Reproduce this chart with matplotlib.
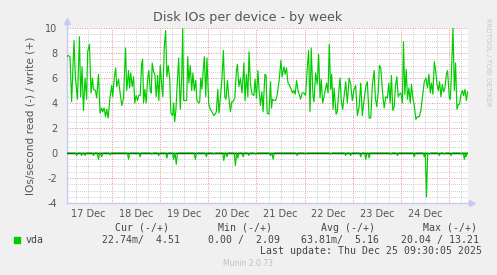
import matplotlib.pyplot as plt
import numpy as np

# hours since 17 Dec 00:00
days = ['17 Dec', '18 Dec', '19 Dec', '20 Dec', '21 Dec', '22 Dec', '23 Dec', '24 Dec']

write_hours = [
    1.3, 2.2, 3.0, 3.8, 5.0, 5.7, 6.7, 7.7, 8.3, 9.0, 9.7, 10.5, 11.3, 11.8, 12.7,
    13.5, 14.2, 14.7, 15.7, 16.3, 17.2, 18.0, 18.8, 19.3, 20.0, 20.7, 21.3, 22.0,
    23.0, 23.8, 24.3, 25.2, 25.8, 26.3, 27.2, 28.0, 28.8, 29.7, 30.7, 31.3, 32.2,
    32.7, 33.3, 34.0, 34.7, 35.3, 36.0, 36.7, 37.3, 38.0, 38.7, 39.2, 39.7, 40.3,
    41.0, 41.7, 42.3, 43.0, 43.5, 44.0, 44.7, 45.3, 46.0, 46.7, 47.3, 48.0, 48.8,
    49.3, 50.0, 50.7, 51.3, 52.0, 52.7, 53.3, 54.2, 54.7, 55.2, 55.8, 56.3, 57.2,
    58.0, 58.7, 59.2, 59.7, 60.5, 61.2, 61.7, 62.3, 63.0, 63.7, 64.3, 65.0, 65.7,
    66.3, 67.2, 67.7, 68.2, 68.8, 69.3, 70.0, 70.7, 71.3, 72.2, 73.0, 73.8, 74.7,
    75.3, 76.0, 76.7, 77.3, 78.0, 78.8, 79.5, 80.2, 80.8, 81.5, 82.2, 83.0, 83.7,
    84.3, 85.2, 86.0, 86.5, 87.2, 88.0, 88.8, 89.7, 90.3, 91.0, 91.7, 92.3, 93.0,
    93.8, 94.7, 95.3, 96.0, 96.7, 97.3, 98.0, 98.7, 99.3, 100.2, 100.8, 101.3,
    102.2, 103.0, 103.5, 104.0, 104.7, 105.5, 106.3, 107.3, 108.2, 108.8, 109.7,
    110.3, 111.0, 111.7, 112.5, 113.3, 114.0, 114.7, 115.3, 116.0, 116.7, 117.3,
    118.0, 118.8, 119.7, 120.5, 121.3, 122.0, 122.7, 123.3, 124.2, 124.7, 125.5,
    126.3, 127.0, 127.7, 128.3, 129.0, 129.7, 130.3, 131.0, 131.7, 132.3, 133.0,
    133.5, 134.2, 134.7, 135.7, 136.3, 137.0, 137.7, 138.3, 139.0, 139.7, 140.5,
    141.3, 142.2, 143.0, 143.8, 144.7, 145.5, 146.3, 147.2, 148.0, 148.8, 149.7,
    150.5, 151.3, 152.2, 153.0, 153.8, 154.7, 155.3, 156.0, 156.7, 157.3, 158.0,
    158.8, 159.7, 160.5, 161.3, 162.0, 162.7, 163.3, 164.0, 164.7, 165.3, 166.0,
    166.7, 167.3, 168.0, 168.8, 169.3, 170.0, 170.7, 171.3, 172.0, 172.7, 173.3,
    174.0, 174.7, 175.5, 176.3, 177.2, 178.0, 178.8, 179.7, 180.5, 181.3, 182.0,
    182.7, 183.3, 184.0, 184.7, 185.3, 186.0, 186.7, 187.3, 188.0, 188.7, 189.3,
    190.0, 190.7, 191.3, 192.2, 192.7, 193.3, 194.0, 194.7, 195.3, 196.0, 196.7,
    197.3, 198.0, 198.7, 199.3, 200.0, 200.7, 201.3,
]
write_vals = [
    7.7, 7.8, 7.7, 4.1, 9.0, 6.0, 4.3, 9.3, 4.5, 6.9, 3.4, 6.0, 4.3, 8.1, 8.7,
    4.8, 6.0, 5.1, 5.0, 4.4, 6.3, 3.2, 3.6, 3.3, 3.6, 2.9, 3.5, 2.8,
    4.5, 5.4, 4.5, 6.2, 6.8, 5.3, 5.9, 4.8, 3.8, 4.4, 8.4, 5.0, 6.6,
    5.2, 6.4, 5.3, 6.1, 4.0, 4.6, 4.2, 4.6, 4.6, 7.1, 7.5, 4.0, 5.1,
    4.0, 5.9, 6.6, 5.0, 4.8, 7.2, 6.5, 6.3, 4.5, 6.2, 4.2, 7.0, 5.3,
    4.5, 8.4, 9.8, 6.1, 7.0, 6.0, 3.2, 3.0, 4.0, 2.5, 3.4, 5.0, 7.6,
    3.5, 6.0, 10.0, 4.2, 4.2, 4.2, 7.7, 5.6, 7.0, 5.0, 6.4, 5.0, 5.8,
    4.2, 4.0, 4.1, 6.0, 5.1, 6.3, 7.7, 4.5, 7.6, 3.9, 3.5, 3.3, 3.0,
    3.1, 3.3, 5.1, 3.2, 4.4, 6.0, 8.2, 4.5, 4.3, 5.8, 4.5, 3.3, 4.1,
    4.1, 4.4, 6.6, 7.1, 5.3, 6.0, 4.8, 7.2, 4.2, 6.3, 4.5, 8.1, 5.5,
    4.7, 4.6, 5.9, 4.4, 6.6, 5.0, 3.8, 4.9, 3.3, 6.3, 6.2, 3.2,
    3.1, 5.7, 3.6, 4.3, 4.2, 4.2, 4.6, 5.8, 7.4, 6.1, 6.9,
    6.3, 6.8, 5.6, 5.4, 5.1, 4.8, 5.0, 4.7, 5.8, 5.0, 4.7,
    4.3, 4.8, 4.8, 4.6, 6.7, 8.2, 3.3, 8.4, 4.5, 4.1, 6.4,
    5.5, 7.9, 4.4, 5.9, 4.0, 4.5, 5.0, 5.6, 4.8, 8.7, 5.1,
    6.3, 3.5, 5.2, 3.1, 3.3, 4.8, 6.0, 4.2, 3.5, 4.5, 5.7,
    4.0, 6.0, 5.5, 4.2, 5.1, 5.4, 3.0, 3.7, 5.6, 3.0, 4.3,
    5.3, 5.7, 2.8, 2.8, 5.4, 6.6, 4.4, 3.7, 4.8, 7.0, 6.8,
    5.0, 3.6, 4.5, 4.4, 5.6, 4.0, 6.2, 3.4, 3.7, 5.3, 6.1,
    4.5, 4.7, 4.8, 4.0, 8.9, 4.7, 6.7, 4.3, 5.2, 4.0, 5.5,
    4.4, 3.8, 2.7, 2.9, 2.9, 3.4, 4.5, 5.7, 6.0, 5.2, 6.3,
    4.8, 5.6, 4.7, 7.3, 6.7, 5.5, 5.0, 5.7, 4.5, 5.5, 4.9,
    5.2, 6.3, 6.6, 4.4, 4.3, 6.7, 10.0, 5.0, 7.2, 3.5, 3.9,
    3.9, 4.7, 5.0, 4.6, 5.1, 4.2, 4.9,
]

read_hours = [
    6.3, 8.8, 10.5, 14.7, 17.2, 18.8, 23.0, 32.2, 38.0, 43.8, 47.2, 51.3, 54.7,
    56.0, 65.5, 71.0, 74.7, 79.7, 81.3, 85.5, 86.7, 89.3, 92.2, 95.5, 103.0,
    104.3, 116.3, 120.5, 133.0, 140.5, 143.0, 148.0, 150.5, 152.2, 163.0, 166.3,
    174.7, 179.7, 180.8, 182.2, 187.2, 189.7, 193.0, 198.0, 199.7, 200.5,
]
read_vals = [
    -0.2, -0.2, -0.2, -0.2, -0.5, -0.3, -0.15, -0.5, -0.3, -0.1, -0.2, -0.4, -0.5,
    -0.9, -0.5, -0.3, -0.1, -0.6, -0.3, -1.0, -0.4, -0.3, -0.2, -0.1, -0.2,
    -0.5, -0.2, -0.1, -0.1, -0.2, -0.2, -0.3, -0.5, -0.4, -0.1, -0.2,
    -0.3, -0.3, -3.5, -0.1, -0.2, -0.1, -0.2, -0.1, -0.5, -0.3,
]

W, H = 497, 275
fig = plt.figure(figsize=(W / 100, H / 100), dpi=100, facecolor='#f0f0f0')
ax = fig.add_axes([67 / W, 1 - 203 / H, (468 - 67) / W, (203 - 28) / H])
ax.set_facecolor('white')

x0, x1 = 1.5, 201.5
ax.set_xlim(x0, x1)
ax.set_ylim(-4, 10)

# grid
red = '#e89090'
gray = '#bdbdbd'
dots = (0, (1, 1.5))
for h in np.arange(6, x1, 6):
    if h % 24 == 0:
        ax.axvline(h, color=red, lw=0.7, ls=dots, zorder=1)
    else:
        ax.axvline(h, color=gray, lw=0.6, ls=dots, zorder=0)
for v in np.arange(-3.5, 10.01, 0.5):
    if v == 0:
        continue
    if v % 2 == 0:
        ax.axhline(v, color=red, lw=0.7, ls=dots, zorder=1)
    else:
        ax.axhline(v, color=gray, lw=0.6, ls=dots, zorder=0)

# read series (below zero) with zeros between the dips
rt = [x0]
rv = [0.0]
for t, v in zip(read_hours, read_vals):
    rt += [t - 0.6, t, t + 0.6]
    rv += [0.0, v, 0.0]
rt.append(x1)
rv.append(0.0)

ax.axhline(0, color='black', lw=1.0, zorder=3)
ax.plot(rt, rv, color='#00cc00', lw=0.85, zorder=4)
ax.plot(write_hours, write_vals, color='#00cc00', lw=0.85, zorder=4)

# axes look
for s in ['top', 'right']:
    ax.spines[s].set_visible(False)
for s in ['left', 'bottom']:
    ax.spines[s].set_color('#c8c8f0')
    ax.spines[s].set_linewidth(1.0)
ax.plot([0], [1.04], marker='^', ms=5, color='#c8c8f0', transform=ax.transAxes,
        clip_on=False)
ax.plot([1.01], [0], marker='>', ms=5, color='#c8c8f0', transform=ax.transAxes,
        clip_on=False)
ax.plot([0, 0], [1.0, 1.04], color='#c8c8f0', lw=1.0, transform=ax.transAxes, clip_on=False)
ax.plot([1.0, 1.01], [0, 0], color='#c8c8f0', lw=1.0, transform=ax.transAxes, clip_on=False)

ax.set_yticks(np.arange(-4, 11, 2))
ax.set_yticklabels([str(v) for v in range(-4, 11, 2)])
ax.set_xticks([12 + 24 * i for i in range(len(days))])
ax.set_xticklabels(days)
ax.tick_params(length=0, labelsize=7, labelcolor='#555555')
ax.tick_params(axis='y', pad=7)
ax.tick_params(axis='x', pad=4)

ax.set_ylabel('IOs/second read (-) / write (+)', fontsize=7.6, color='#555555', labelpad=7)

fig.text(248 / W, 1 - 18 / H, 'Disk IOs per device - by week', ha='center', va='center',
         fontsize=9.2, color='#555555')
fig.text(488 / W, 1 - 62 / H, 'RRDTOOL / TOBI OETIKER', rotation=270, ha='center',
         va='center', fontsize=5, color='#c8c8c8')

# legend block
mono = 'DejaVu Sans Mono'
fs = 7.1
tc = '#444444'
fig.patches.append(plt.Rectangle((14 / W, 1 - 243 / H), 6 / W, 6 / H, color='#00cc00',
                                 transform=fig.transFigure))
fig.text(26 / W, 1 - 240 / H, 'vda', family=mono, fontsize=fs, color=tc, va='center')
heads = [('Cur (-/+)', 142), ('Min (-/+)', 245), ('Avg (-/+)', 348), ('Max (-/+)', 450)]
vals = [('22.74m/  4.51', 141), ('0.00 /  2.09', 244), ('63.81m/  5.16', 340),
        ('20.04 / 13.21', 440)]
for txt, xc in heads:
    fig.text(xc / W, 1 - 228 / H, txt, family=mono, fontsize=fs, color=tc,
             ha='center', va='center')
for txt, xc in vals:
    fig.text(xc / W, 1 - 240 / H, txt, family=mono, fontsize=fs, color=tc,
             ha='center', va='center')
fig.text(482 / W, 1 - 251 / H, 'Last update: Thu Dec 25 09:30:05 2025', family=mono,
         fontsize=fs, color=tc, ha='right', va='center')
fig.text(248 / W, 1 - 264 / H, 'Munin 2.0.73', fontsize=5.5, color='#c0c0c0',
         ha='center', va='center')

fig.savefig('out.png', dpi=100, facecolor=fig.get_facecolor())
